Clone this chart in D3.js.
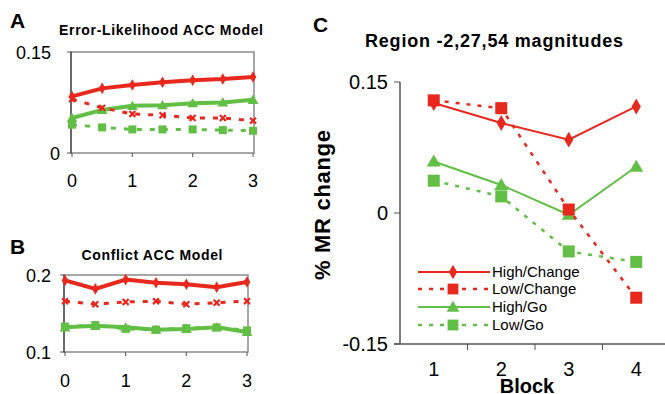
<!DOCTYPE html>
<html>
<head>
<meta charset="utf-8">
<script src="https://cdn.jsdelivr.net/npm/d3@7"></script>
<style>
  body { margin: 0; background: #fff; }
  svg { display: block; font-family: "Liberation Sans", Arial, Helvetica, sans-serif; }
</style>
</head>
<body>
<div id="chart"></div>
<script>
const RED = '#e8271d';
const GREEN = '#62bf45';

// Panel A: Error-likelihood model (x = 0 .. 3 in half steps)
const modelX = [0, 0.5, 1, 1.5, 2, 2.5, 3];
const elHighChange = [0.084, 0.096, 0.101, 0.105, 0.108, 0.110, 0.113];
const elLowChange = [0.080, 0.067, 0.058, 0.056, 0.052, 0.052, 0.048];
const elHighGo = [0.052, 0.064, 0.070, 0.071, 0.074, 0.075, 0.079];
const elLowGo = [0.042, 0.038, 0.035, 0.035, 0.035, 0.034, 0.033];

// Panel B: Conflict model
const cfHighChange = [0.193, 0.182, 0.194, 0.190, 0.188, 0.184, 0.191];
const cfLowChange = [0.166, 0.162, 0.165, 0.166, 0.162, 0.164, 0.166];
const cfHighGo = [0.132, 0.134, 0.132, 0.129, 0.130, 0.132, 0.126];
const cfLowGo = [0.133, 0.135, 0.130, 0.129, 0.131, 0.132, 0.128];

// Panel C: fMRI region
const blocks = [1, 2, 3, 4];
const mrHighChange = [0.126, 0.103, 0.084, 0.122];
const mrLowChange = [0.129, 0.120, 0.004, -0.097];
const mrHighGo = [0.059, 0.032, -0.002, 0.053];
const mrLowGo = [0.037, 0.019, -0.044, -0.056];
const seriesNames = ['High/Change', 'Low/Change', 'High/Go', 'Low/Go'];
const cTickLabels = ['-0.15', '0', '0.15'];

const svg = d3.select('#chart').append('svg')
    .attr('width', 665)
    .attr('height', 394);

function marker(g, type, x, y, s, color) {
    if (type === 'diamond') {
        g.append('path').attr('d', d3.symbol(d3.symbolDiamond, s * s * 0.6)())
            .attr('transform', `translate(${x},${y})`).attr('fill', color);
    } else if (type === 'square') {
        g.append('rect').attr('x', x - s / 2).attr('y', y - s / 2)
            .attr('width', s).attr('height', s).attr('fill', color);
    } else if (type === 'triangle') {
        g.append('path').attr('d', d3.symbol(d3.symbolTriangle, s * s * 0.5)())
            .attr('transform', `translate(${x},${y + 1})`).attr('fill', color);
    } else if (type === 'x') {
        g.append('path').attr('d', d3.symbol(d3.symbolX, s * s * 0.5)())
            .attr('transform', `translate(${x},${y})`)
            .attr('stroke', color).attr('stroke-width', 2.2).attr('fill', 'none');
    }
}

function drawSeries(g, xs, ys, x, y, opt) {
    const line = d3.line().x((d, i) => x(xs[i])).y(d => y(d));
    g.append('path')
        .datum(ys)
        .attr('d', line)
        .attr('fill', 'none')
        .attr('stroke', opt.color)
        .attr('stroke-width', opt.width)
        .attr('stroke-dasharray', opt.dash || null);
    ys.forEach((v, i) => marker(g, opt.marker, x(xs[i]), y(v), opt.size, opt.color));
}

// --- Small model panels ---
function modelPanel(cfg) {
    const g = svg.append('g');
    const x = d3.scaleLinear().domain([0, 3]).range(cfg.xr);
    const y = d3.scaleLinear().domain(cfg.yd).range(cfg.yr);

    g.append('rect')
        .attr('x', cfg.xr[0] - 1).attr('y', cfg.yr[1])
        .attr('width', cfg.xr[1] - cfg.xr[0] + 2).attr('height', cfg.yr[0] - cfg.yr[1])
        .attr('fill', 'none').attr('stroke', '#8a8a8a').attr('stroke-width', 1.5);
    g.append('line')
        .attr('x1', cfg.xr[0] - 1).attr('x2', cfg.xr[0] - 1)
        .attr('y1', cfg.yr[1]).attr('y2', cfg.yr[0])
        .attr('stroke', '#555').attr('stroke-width', 1.5);

    // ticks
    [0, 1, 2, 3].forEach(t => {
        g.append('line').attr('x1', x(t)).attr('x2', x(t))
            .attr('y1', cfg.yr[0]).attr('y2', cfg.yr[0] + 4)
            .attr('stroke', '#555');
        g.append('text').attr('x', x(t)).attr('y', cfg.xLabelY)
            .attr('text-anchor', 'middle').attr('font-size', 18).text(t);
    });
    cfg.yd.forEach((t, i) => {
        g.append('line').attr('x1', cfg.xr[0] - 5).attr('x2', cfg.xr[0])
            .attr('y1', y(t)).attr('y2', y(t)).attr('stroke', '#555');
        g.append('text').attr('x', cfg.yLabelX[i]).attr('y', y(t) + 7)
            .attr('text-anchor', 'end').attr('font-size', 18).text(cfg.yText[i]);
    });

    drawSeries(g, modelX, cfg.data[3], x, y, { color: GREEN, width: 3, dash: '5,8', marker: 'square', size: 8 });
    drawSeries(g, modelX, cfg.data[2], x, y, { color: GREEN, width: 4, marker: 'triangle', size: 10 });
    drawSeries(g, modelX, cfg.data[1], x, y, { color: RED, width: 3, dash: '5,8', marker: 'x', size: 7 });
    drawSeries(g, modelX, cfg.data[0], x, y, { color: RED, width: 4, marker: 'diamond', size: 8 });

    g.append('text').attr('x', cfg.titleX).attr('y', cfg.titleY)
        .attr('text-anchor', 'middle').attr('font-size', 14).attr('font-weight', 'bold')
        .attr('textLength', cfg.titleW).text(cfg.title);
    g.append('text').attr('x', 10).attr('y', cfg.letterY)
        .attr('font-size', 21).attr('font-weight', 'bold').text(cfg.letter);
}

modelPanel({
    letter: 'A', letterY: 28,
    title: 'Error-Likelihood ACC Model', titleX: 161, titleY: 35, titleW: 204,
    xr: [72, 253], yd: [0, 0.15], yr: [153, 52],
    yText: ['0', '0.15'], yLabelX: [60, 51],
    xLabelY: 187,
    data: [elHighChange, elLowChange, elHighGo, elLowGo]
});

modelPanel({
    letter: 'B', letterY: 254,
    title: 'Conflict ACC Model', titleX: 152, titleY: 260, titleW: 141,
    xr: [65, 247], yd: [0.1, 0.2], yr: [352, 275],
    yText: ['0.1', '0.2'], yLabelX: [51, 51],
    xLabelY: 387,
    data: [cfHighChange, cfLowChange, cfHighGo, cfLowGo]
});

// --- Panel C ---
const gc = svg.append('g');
const xc = d3.scaleBand().domain(blocks).range([400, 670]);
const yc = d3.scaleLinear().domain([-0.15, 0.15]).range([344, 82]);
const cx = b => xc(b) + xc.bandwidth() / 2;

gc.append('line').attr('x1', 400).attr('x2', 400).attr('y1', 82).attr('y2', 344)
    .attr('stroke', '#555').attr('stroke-width', 1.5);
gc.append('line').attr('x1', 394).attr('x2', 665).attr('y1', 344).attr('y2', 344)
    .attr('stroke', '#555').attr('stroke-width', 1.5);
[-0.15, 0, 0.15].forEach((t, i) => {
    gc.append('line').attr('x1', 394).attr('x2', 400).attr('y1', yc(t)).attr('y2', yc(t))
        .attr('stroke', '#555');
    gc.append('text').attr('x', 388).attr('y', yc(t) + 7).attr('text-anchor', 'end')
        .attr('font-size', 20).text(cTickLabels[i]);
});
blocks.slice(1).forEach(b => {
    gc.append('line').attr('x1', xc(b)).attr('x2', xc(b)).attr('y1', 344).attr('y2', 350)
        .attr('stroke', '#555');
});
blocks.forEach(b => {
    gc.append('text').attr('x', cx(b)).attr('y', 376).attr('text-anchor', 'middle')
        .attr('font-size', 20).text(b);
});
gc.append('text').attr('x', 527).attr('y', 393).attr('text-anchor', 'middle')
    .attr('font-size', 20).attr('font-weight', 'bold').text('Block');
gc.append('text').attr('transform', 'translate(330,205) rotate(-90)')
    .attr('text-anchor', 'middle').attr('font-size', 22).attr('font-weight', 'bold')
    .attr('textLength', 150).text('% MR change');
gc.append('text').attr('x', 494).attr('y', 47).attr('text-anchor', 'middle')
    .attr('font-size', 18).attr('font-weight', 'bold').attr('textLength', 258)
    .text('Region -2,27,54 magnitudes');
gc.append('text').attr('x', 313).attr('y', 32)
    .attr('font-size', 21).attr('font-weight', 'bold').text('C');

const cStyles = [
    { color: RED, width: 2, marker: 'diamond', size: 11 },
    { color: RED, width: 2.5, dash: '4,7', marker: 'square', size: 12 },
    { color: GREEN, width: 2, marker: 'triangle', size: 13 },
    { color: GREEN, width: 2.5, dash: '4,7', marker: 'square', size: 12 }
];
const cData = [mrHighChange, mrLowChange, mrHighGo, mrLowGo];
const xcPos = d3.scaleLinear().domain([1, 4]).range([cx(1), cx(4)]);
[3, 2, 1, 0].forEach(i => drawSeries(gc, blocks, cData[i], xcPos, yc, cStyles[i]));

// legend
const legendY = [272, 289, 307, 325];
seriesNames.forEach((name, i) => {
    const s = cStyles[i];
    const lg = gc.append('g');
    lg.append('line').attr('x1', 418).attr('x2', 490).attr('y1', legendY[i]).attr('y2', legendY[i])
        .attr('stroke', s.color).attr('stroke-width', s.width)
        .attr('stroke-dasharray', s.dash || null);
    marker(lg, s.marker, 453, legendY[i], s.size * 0.9, s.color);
    lg.append('text').attr('x', 492).attr('y', legendY[i] + 5)
        .attr('font-size', 15).text(name);
});
</script>
</body>
</html>
